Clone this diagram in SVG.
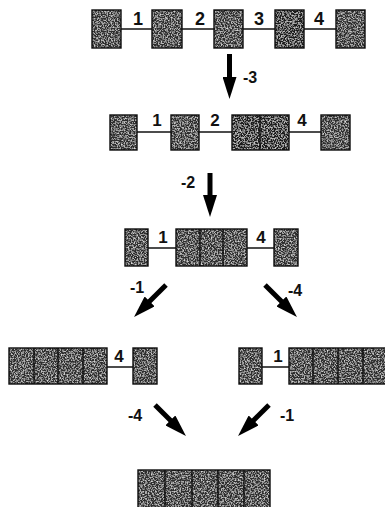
<svg xmlns="http://www.w3.org/2000/svg" width="385" height="507" viewBox="0 0 385 507">
  <defs>
    <style>
      .cell { fill: #2e2e2e; filter: url(#grain); }
      .cell.dark { fill: #1c1c1c; }
      .edge { fill: none; stroke: #0d0d0d; stroke-width: 1.4; }
      .div { stroke: #0d0d0d; stroke-width: 1.4; }
      .link { stroke: #111; stroke-width: 1.5; }
      .lbl { font-family: "Liberation Sans", Arial, sans-serif; font-weight: bold; font-size: 16px; fill: #111; }
      .big { font-size: 18px; }
      .mid { font-size: 17px; }
      .arrow { stroke: #000; stroke-width: 5; fill: none; marker-end: url(#head); }
    </style>
    <!-- speckled grain for the shaded blocks -->
    <filter id="grain" x="0" y="0" width="100%" height="100%">
      <feTurbulence type="fractalNoise" baseFrequency="0.7" numOctaves="2" seed="7" result="noise"/>
      <feColorMatrix in="noise" type="matrix" values="0 0 0 0 0.72  0 0 0 0 0.72  0 0 0 0 0.72  2.6 0 0 0 -1.15" result="speck"/>
      <feComposite in="speck" in2="SourceGraphic" operator="in" result="inside"/>
      <feMerge>
        <feMergeNode in="SourceGraphic"/>
        <feMergeNode in="inside"/>
      </feMerge>
    </filter>
    <marker id="head" viewBox="0 0 22 14" refX="1" refY="7" markerWidth="22" markerHeight="14" markerUnits="userSpaceOnUse" orient="auto">
      <path d="M0,0 L22,7 L0,14 Z" fill="#000"/>
    </marker>
  </defs>

  <!-- links between blocks -->
  <g id="links">
    <line class="link" x1="121" y1="29" x2="152" y2="29"/>
    <line class="link" x1="182" y1="29" x2="214" y2="29"/>
    <line class="link" x1="243" y1="29" x2="275" y2="29"/>
    <line class="link" x1="304" y1="29" x2="336" y2="29"/>

    <line class="link" x1="137" y1="132" x2="171" y2="132"/>
    <line class="link" x1="199" y1="132" x2="232" y2="132"/>
    <line class="link" x1="289" y1="132" x2="321" y2="132"/>

    <line class="link" x1="148" y1="248" x2="176" y2="248"/>
    <line class="link" x1="247" y1="248" x2="274" y2="248"/>

    <line class="link" x1="107" y1="367" x2="133" y2="367"/>
    <line class="link" x1="262" y1="367" x2="289" y2="367"/>
  </g>

  <!-- row 1: five separate blocks -->
  <g id="row1">
    <g id="r1b1"><rect class="cell" x="92" y="10" width="29" height="38"/><rect class="edge" x="92" y="10" width="29" height="38"/></g>
    <g id="r1b2"><rect class="cell" x="152" y="10" width="30" height="38"/><rect class="edge" x="152" y="10" width="30" height="38"/></g>
    <g id="r1b3"><rect class="cell" x="214" y="10" width="29" height="38"/><rect class="edge" x="214" y="10" width="29" height="38"/></g>
    <g id="r1b4"><rect class="cell dark" x="275" y="10" width="29" height="38"/><rect class="edge" x="275" y="10" width="29" height="38"/></g>
    <g id="r1b5"><rect class="cell" x="336" y="10" width="29" height="38"/><rect class="edge" x="336" y="10" width="29" height="38"/></g>
    <text class="lbl big" x="138" y="25" text-anchor="middle">1</text>
    <text class="lbl big" x="200" y="25" text-anchor="middle">2</text>
    <text class="lbl big" x="259" y="25" text-anchor="middle">3</text>
    <text class="lbl big" x="319" y="25" text-anchor="middle">4</text>
  </g>

  <!-- row 2 -->
  <g id="row2">
    <g id="r2b1"><rect class="cell" x="110" y="115" width="27" height="35"/><rect class="edge" x="110" y="115" width="27" height="35"/></g>
    <g id="r2b2"><rect class="cell" x="171" y="115" width="28" height="35"/><rect class="edge" x="171" y="115" width="28" height="35"/></g>
    <g id="r2b3"><rect class="cell dark" x="232" y="115" width="57" height="35"/><rect class="edge" x="232" y="115" width="57" height="35"/><line class="div" x1="260" y1="115" x2="260" y2="150"/></g>
    <g id="r2b4"><rect class="cell" x="321" y="115" width="29" height="35"/><rect class="edge" x="321" y="115" width="29" height="35"/></g>
    <text class="lbl mid" x="157" y="126" text-anchor="middle">1</text>
    <text class="lbl mid" x="215" y="126" text-anchor="middle">2</text>
    <text class="lbl mid" x="302" y="126" text-anchor="middle">4</text>
  </g>

  <!-- row 3 -->
  <g id="row3">
    <g id="r3b1"><rect class="cell" x="125" y="229" width="23" height="37"/><rect class="edge" x="125" y="229" width="23" height="37"/></g>
    <g id="r3b2"><rect class="cell" x="176" y="229" width="71" height="37"/><rect class="edge" x="176" y="229" width="71" height="37"/><line class="div" x1="200" y1="229" x2="200" y2="266"/><line class="div" x1="223" y1="229" x2="223" y2="266"/></g>
    <g id="r3b3"><rect class="cell" x="274" y="229" width="24" height="37"/><rect class="edge" x="274" y="229" width="24" height="37"/></g>
    <text class="lbl mid" x="163" y="243" text-anchor="middle">1</text>
    <text class="lbl mid" x="261" y="243" text-anchor="middle">4</text>
  </g>

  <!-- row 4, left branch -->
  <g id="row4left">
    <g id="r4lb1"><rect class="cell" x="9" y="348" width="98" height="36"/><rect class="edge" x="9" y="348" width="98" height="36"/><line class="div" x1="34" y1="348" x2="34" y2="384"/><line class="div" x1="58" y1="348" x2="58" y2="384"/><line class="div" x1="83" y1="348" x2="83" y2="384"/></g>
    <g id="r4lb2"><rect class="cell" x="133" y="348" width="24" height="36"/><rect class="edge" x="133" y="348" width="24" height="36"/></g>
    <text class="lbl mid" x="119" y="362" text-anchor="middle">4</text>
  </g>

  <!-- row 4, right branch -->
  <g id="row4right">
    <g id="r4rb1"><rect class="cell" x="239" y="348" width="23" height="36"/><rect class="edge" x="239" y="348" width="23" height="36"/></g>
    <g id="r4rb2"><rect class="cell" x="289" y="348" width="100" height="36"/><rect class="edge" x="289" y="348" width="100" height="36"/><line class="div" x1="313" y1="348" x2="313" y2="384"/><line class="div" x1="338" y1="348" x2="338" y2="384"/><line class="div" x1="363" y1="348" x2="363" y2="384"/></g>
    <text class="lbl mid" x="278" y="362" text-anchor="middle">1</text>
  </g>

  <!-- row 5: fully joined -->
  <g id="row5">
    <g id="r5b1"><rect class="cell" x="138" y="470" width="132" height="40"/><rect class="edge" x="138" y="470" width="132" height="40"/><line class="div" x1="165" y1="470" x2="165" y2="507"/><line class="div" x1="192" y1="470" x2="192" y2="507"/><line class="div" x1="218" y1="470" x2="218" y2="507"/><line class="div" x1="244" y1="470" x2="244" y2="507"/></g>
  </g>

  <!-- step arrows -->
  <g id="arrows">
    <line class="arrow" x1="229.5" y1="54" x2="229.5" y2="78"/>
    <text class="lbl" x="243" y="83">-3</text>

    <line class="arrow" x1="210" y1="173" x2="210" y2="196"/>
    <text class="lbl" x="181" y="188">-2</text>

    <line class="arrow" x1="166" y1="285" x2="148.9" y2="302.1"/>
    <text class="lbl" x="130" y="293">-1</text>

    <line class="arrow" x1="265" y1="285" x2="282.1" y2="302.1"/>
    <text class="lbl" x="288" y="296">-4</text>

    <line class="arrow" x1="155" y1="405" x2="171.1" y2="421.1"/>
    <text class="lbl" x="128" y="421">-4</text>

    <line class="arrow" x1="269" y1="405" x2="252.9" y2="421.1"/>
    <text class="lbl" x="280" y="421">-1</text>
  </g>
</svg>
